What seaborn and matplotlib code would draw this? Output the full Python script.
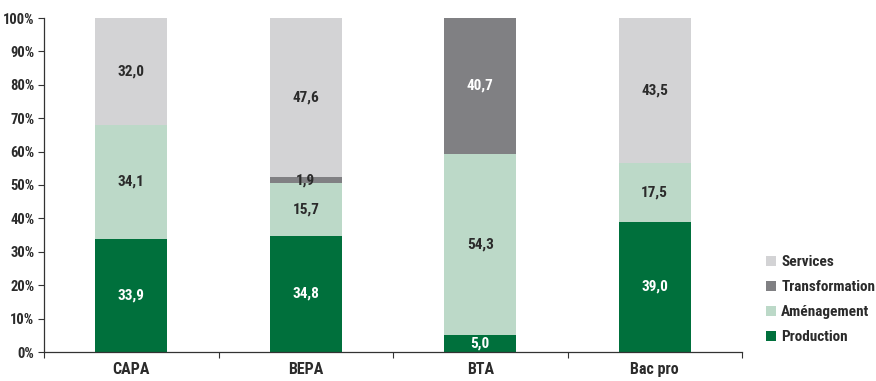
import matplotlib
matplotlib.use("Agg")
import matplotlib.pyplot as plt
import seaborn as sns
import numpy as np
import pandas as pd
from matplotlib.patches import Patch

# Répartition des élèves par secteur, selon le diplôme préparé (%)
categories = ["CAPA", "BEPA", "BTA", "Bac pro"]
production = [33.9, 34.8, 5.0, 39.0]
amenagement = [34.1, 15.7, 54.3, 17.5]
transformation = [0.0, 1.9, 40.7, 0.0]
services = [32.0, 47.6, 0.0, 43.5]

series_names = ["Production", "Aménagement", "Transformation", "Services"]
series_values = [production, amenagement, transformation, services]
colors = ["#00703c", "#bcd9c8", "#808083", "#d3d3d5"]
light_text = [True, False, True, False]
DARK = "#2b2b2b"

sns.set_theme(style="white")
plt.rcParams["font.family"] = ["Roboto Condensed", "Liberation Sans Narrow", "DejaVu Sans"]
plt.rcParams["font.stretch"] = "condensed"
plt.rcParams["font.weight"] = "bold"

fig = plt.figure(figsize=(8.76, 3.81), dpi=100)
ax = fig.add_axes([44 / 876, 29 / 381, 698 / 876, 334 / 381])

vals = np.array(series_values)
cum = np.cumsum(vals, axis=0)

# Draw cumulative totals from the top series down so each stack reads correctly
for i in range(len(series_names) - 1, -1, -1):
    df = pd.DataFrame({"cat": categories, "val": cum[i]})
    sns.barplot(data=df, x="cat", y="val", color=colors[i], width=0.41,
                saturation=1, ax=ax, errorbar=None, linewidth=0)

# Segment value labels (thin segments get dark text since it spills over)
for i, name in enumerate(series_names):
    for j, cat in enumerate(categories):
        v = vals[i, j]
        if v <= 0:
            continue
        base = cum[i, j] - v
        col = "white" if (light_text[i] and v >= 4) else DARK
        ax.text(j, base + v / 2, f"{v:.1f}".replace(".", ","),
                ha="center", va="center", fontsize=11, fontweight="bold",
                color=col)

ax.set_xlim(-0.5, len(categories) - 0.5)
ax.set_ylim(0, 100)
ax.set_yticks(np.arange(0, 101, 10))
ax.set_yticklabels([f"{t}%" for t in range(0, 101, 10)])
ax.set_xlabel("")
ax.set_ylabel("")

ax.set_xticks(np.arange(-0.5, len(categories), 1.0), minor=True)
ax.tick_params(axis="x", which="major", length=0, pad=7, labelsize=11.5,
               labelcolor=DARK)
ax.tick_params(axis="x", which="minor", length=4, width=0.8, color="#333333",
               direction="out", bottom=True)
ax.tick_params(axis="y", which="major", length=4, width=0.8, color="#333333",
               direction="out", left=True, labelsize=10.5, labelcolor=DARK,
               pad=3)
for lab in ax.get_xticklabels() + ax.get_yticklabels():
    lab.set_fontweight("bold")

for side in ["top", "right"]:
    ax.spines[side].set_visible(False)
for side in ["left", "bottom"]:
    ax.spines[side].set_color("#333333")
    ax.spines[side].set_linewidth(0.9)

handles = [Patch(facecolor=colors[i], edgecolor="none", label=series_names[i])
           for i in range(len(series_names) - 1, -1, -1)]
leg = fig.legend(handles=handles, loc="upper left", bbox_to_anchor=(766 / 876, 1 - 255 / 381),
                 frameon=False, fontsize=11, handlelength=0.65, handleheight=0.65,
                 handletextpad=0.35, labelspacing=0.72, borderaxespad=0,
                 borderpad=0)
for t in leg.get_texts():
    t.set_fontweight("bold")
    t.set_color(DARK)

fig.savefig("out.png", dpi=100)
